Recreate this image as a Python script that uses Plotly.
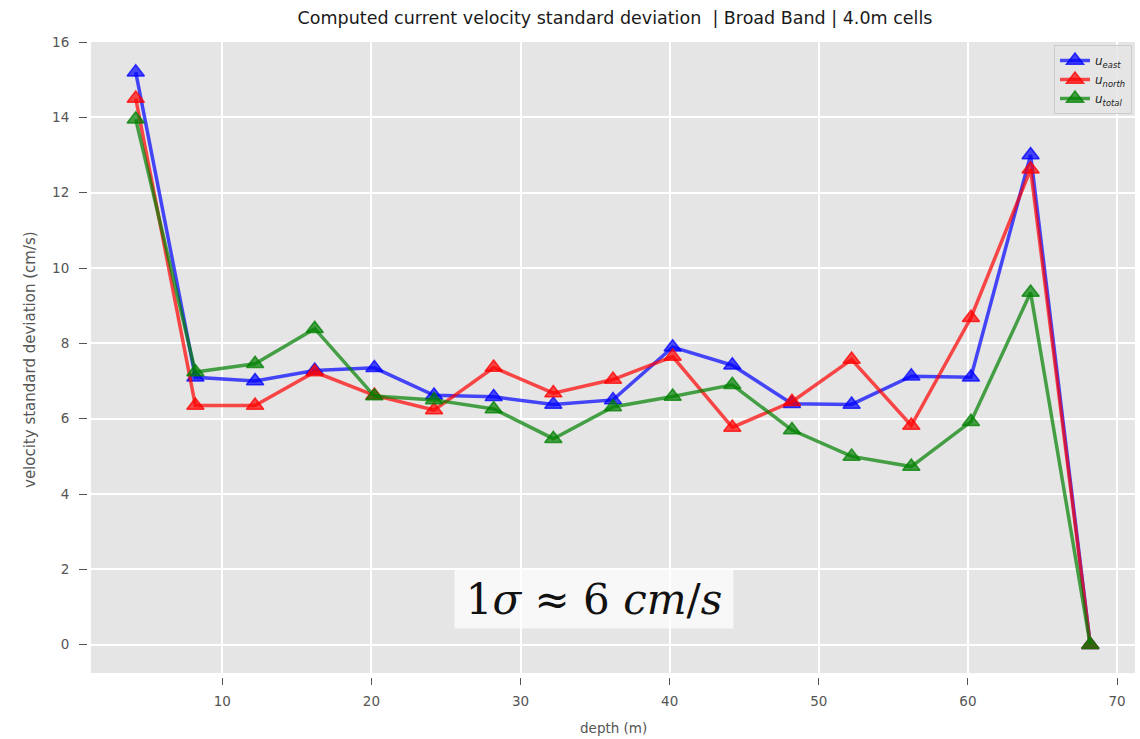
import plotly.graph_objects as go

depth = [4.2, 8.2, 12.2, 16.2, 20.2, 24.2, 28.2, 32.2, 36.2, 40.2,
         44.2, 48.2, 52.2, 56.2, 60.2, 64.2, 68.2]
u_east = [15.2, 7.1, 7.0, 7.28, 7.35, 6.62, 6.58, 6.38, 6.5, 7.9,
          7.42, 6.4, 6.38, 7.13, 7.1, 13.0, 0.0]
u_north = [14.5, 6.35, 6.35, 7.24, 6.62, 6.23, 7.36, 6.68, 7.04, 7.65,
           5.77, 6.45, 7.57, 5.82, 8.68, 12.62, 0.0]
u_total = [13.95, 7.24, 7.46, 8.39, 6.6, 6.5, 6.26, 5.47, 6.31, 6.59,
           6.9, 5.7, 5.0, 4.73, 5.92, 9.35, 0.0]

x_ticks = [10, 20, 30, 40, 50, 60, 70]
y_ticks = [0, 2, 4, 6, 8, 10, 12, 14, 16]

series = [
    ("<i>u<sub>east</sub></i>", u_east, "0,0,255"),
    ("<i>u<sub>north</sub></i>", u_north, "255,0,0"),
    ("<i>u<sub>total</sub></i>", u_total, "0,128,0"),
]

fig = go.Figure()
for name, vals, rgb in series:
    fig.add_trace(go.Scatter(
        x=depth, y=vals, name=name, mode="lines+markers",
        line=dict(color=f"rgba({rgb},0.7)", width=3.5),
        marker=dict(symbol="triangle-up", size=15,
                    color=f"rgba({rgb},0.7)",
                    line=dict(color=f"rgba({rgb},0.75)", width=1.5)),
    ))

W, H = 1140, 739
ml, mr, mt, mb = 87, 5, 42, 62
pw = W - ml - mr
ph = H - mt - mb
gap = 4

tickfont = dict(family="DejaVu Sans", size=13.5, color="#555555")

fig.update_layout(
    width=W, height=H,
    margin=dict(l=ml, r=mr, t=mt, b=mb),
    paper_bgcolor="white",
    plot_bgcolor="#E5E5E5",
    font=dict(family="DejaVu Sans", color="#555555"),
    title=dict(text="Computed current velocity standard deviation  | Broad Band | 4.0m cells",
               font=dict(family="DejaVu Sans", size=17.5, color="#1a1a1a"),
               x=(ml + gap + pw / 2) / W, xanchor="center",
               y=1 - 18 / H, yanchor="middle"),
    xaxis=dict(range=[1.2, 71.2], domain=[gap / pw, 1],
               anchor="free", position=0,
               tickvals=x_ticks, ticks="outside", ticklen=7, tickwidth=1.2,
               tickcolor="#555555", showgrid=True, gridcolor="white", gridwidth=1.6,
               zeroline=False, showline=False, tickfont=tickfont,
               ticklabelstandoff=5),
    yaxis=dict(range=[-0.75, 16.0], domain=[gap / ph, 1],
               anchor="free", position=0,
               tickvals=y_ticks, ticks="outside", ticklen=8, tickwidth=1.2,
               tickcolor="#555555", showgrid=True, gridcolor="white", gridwidth=1.6,
               zeroline=False, showline=False, tickfont=tickfont,
               ticklabelstandoff=7),
    legend=dict(x=(1132 - ml) / pw, xanchor="right",
                y=1 - 3 / ph, yanchor="top",
                bgcolor="rgba(229,229,229,0.85)", bordercolor="#CCCCCC", borderwidth=1,
                font=dict(family="DejaVu Sans", size=12, color="#222222"),
                itemwidth=30, tracegroupgap=0),
    showlegend=True,
)

# axis titles
fig.add_annotation(text="depth (m)", xref="paper", yref="paper",
                   x=(613 - ml) / pw, y=-(728 - (H - mb)) / ph,
                   xanchor="center", yanchor="middle", showarrow=False,
                   font=dict(family="DejaVu Sans", size=13.5, color="#555555"))
fig.add_annotation(text="velocity standard deviation (cm/s)", xref="paper", yref="paper",
                   x=-(ml - 30) / pw, y=1 - (360 - mt) / ph, textangle=-90,
                   xanchor="center", yanchor="middle", showarrow=False,
                   font=dict(family="DejaVu Sans", size=15, color="#555555"))

# sigma label
fig.add_annotation(text="1<i>σ</i> ≈ 6 <i>cm</i>/<i>s</i>", x=34.94, y=1.21,
                   xref="x", yref="y", showarrow=False,
                   xanchor="center", yanchor="middle",
                   width=278, height=58, borderpad=0,
                   bgcolor="rgba(255,255,255,0.72)",
                   font=dict(family="DejaVu Serif", size=42, color="#111111"))

fig.write_html("out.html")
